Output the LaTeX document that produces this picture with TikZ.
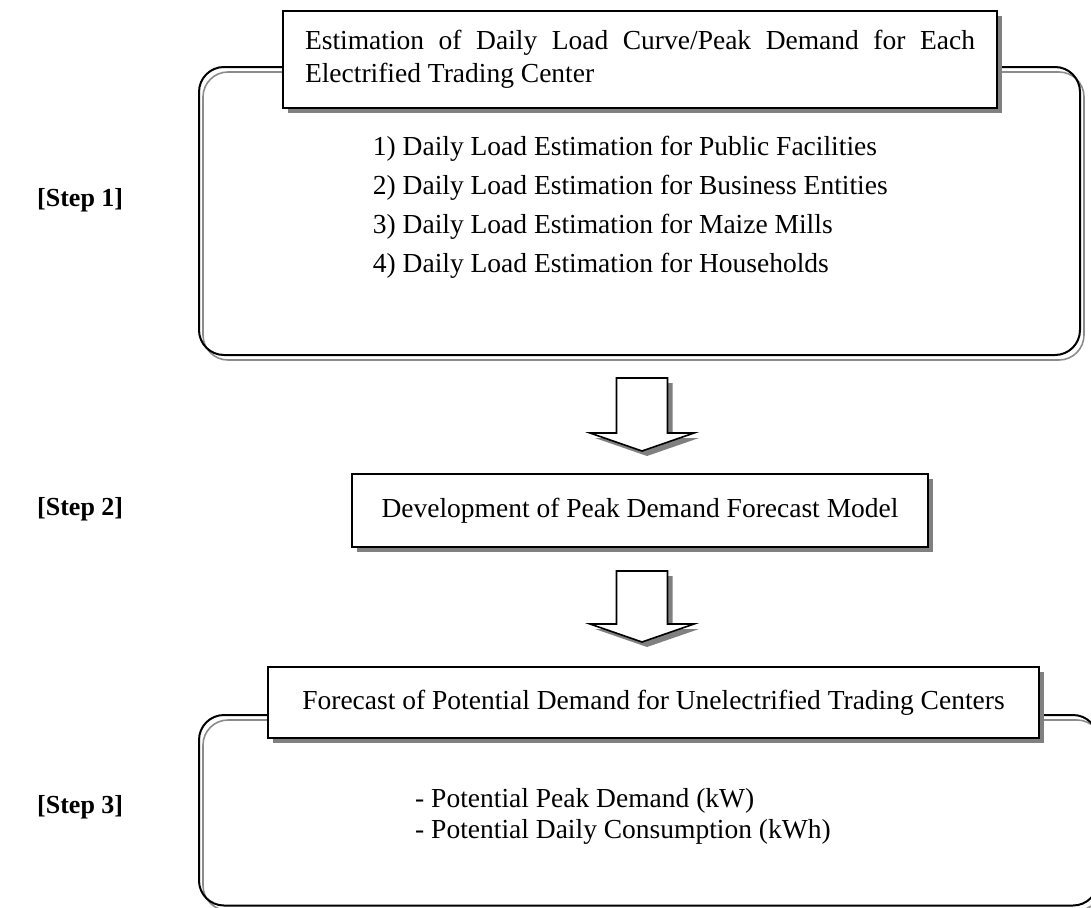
\documentclass[tikz,border=0pt]{standalone}
\usepackage{fontspec}
\setmainfont{Liberation Serif}
\usetikzlibrary{shadows}

\tikzset{
  every node/.style={font=\fontsize{27.5}{33}\selectfont, inner sep=0pt},
  headbox/.style={draw=black, line width=2pt, fill=white,
    drop shadow={fill=black!50, opacity=1, shadow xshift=5pt, shadow yshift=-5pt}},
  framebox/.style={draw=black, line width=2pt, rounded corners=25pt},
  frameshade/.style={draw=black!45, line width=1.6pt, rounded corners=25pt},
  blockarrow/.style={draw=black, line width=1.6pt, fill=white, line join=miter,
    drop shadow={fill=black!50, opacity=1, shadow xshift=5pt, shadow yshift=-5pt}},
  steplabel/.style={anchor=base west, font=\fontsize{26}{31}\selectfont\bfseries},
  itemtext/.style={anchor=base west}
}

\begin{document}
\begin{tikzpicture}[x=1pt, y=-1pt]
  \useasboundingbox (0,0) rectangle (1091,907);
  \clip (0,0) rectangle (1091,907);

  % ---------- Step 1 ----------
  \draw[frameshade] (203,72) rectangle (1084,360);
  \draw[framebox]   (199,67) rectangle (1080,355);
  \node[headbox, minimum width=714pt, minimum height=97pt,
        text width=670pt, align=justify] (title1) at (640,59.5)
    {Estimation of Daily Load Curve/Peak Demand for Each \mbox{Electrified} Trading Center};
  \node[itemtext] (s1a) at (372.7,155) {1) Daily Load Estimation for Public Facilities};
  \node[itemtext] (s1b) at (372.7,194) {2) Daily Load Estimation for Business Entities};
  \node[itemtext] (s1c) at (372.7,233) {3) Daily Load Estimation for Maize Mills};
  \node[itemtext] (s1d) at (372.7,272) {4) Daily Load Estimation for Households};
  \node[steplabel] (lab1) at (37,206) {[Step 1]};

  % arrow from step 1 to step 2
  \begin{scope}[shift={(642,378)}]
    \path[blockarrow] (-25.5,0) -- (25.5,0) -- (25.5,55) -- (52,55) -- (0,73)
      -- (-52,55) -- (-25.5,55) -- cycle;
  \end{scope}

  % ---------- Step 2 ----------
  \node[headbox, minimum width=576pt, minimum height=73pt] (title2) at (640,510.5)
    {Development of Peak Demand Forecast Model};
  \node[steplabel] (lab2) at (37,515) {[Step 2]};

  % arrow from step 2 to step 3
  \begin{scope}[shift={(642,571)}]
    \path[blockarrow] (-25.5,0) -- (25.5,0) -- (25.5,53) -- (52,53) -- (0,71)
      -- (-52,53) -- (-25.5,53) -- cycle;
  \end{scope}

  % ---------- Step 3 ----------
  \draw[frameshade] (203,720) rectangle (1102,910.5);
  \draw[framebox]   (199,715) rectangle (1098,905.5);
  \node[headbox, minimum width=771pt, minimum height=71pt] (title3) at (653.5,702.5)
    {Forecast of Potential Demand for Unelectrified Trading Centers};
  \node[itemtext] (s3a) at (415,807) {- Potential Peak Demand (kW)};
  \node[itemtext] (s3b) at (415,838) {- Potential Daily Consumption (kWh)};
  \node[steplabel] (lab3) at (37,813) {[Step 3]};
\end{tikzpicture}
\end{document}
